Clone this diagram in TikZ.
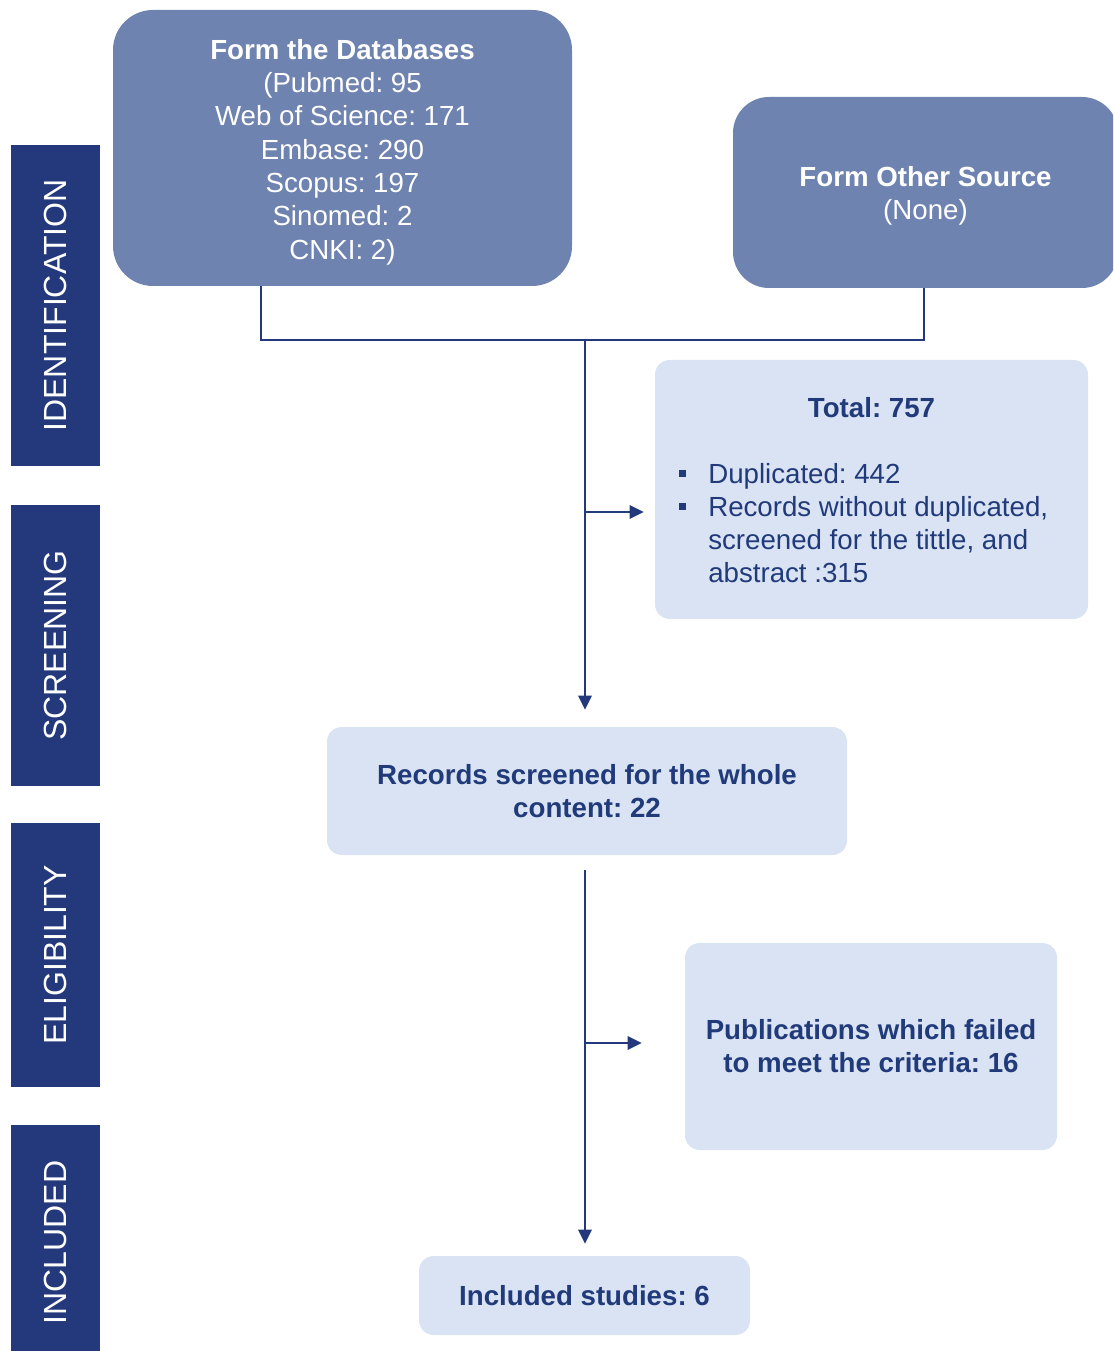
\documentclass[tikz,border=0pt]{standalone}
\usepackage{fontspec}
\setmainfont{Liberation Sans}
\usetikzlibrary{arrows.meta}
\definecolor{navy}{HTML}{24397C}
\definecolor{midblue}{HTML}{6F83B0}
\definecolor{lightblue}{HTML}{DAE3F3}
\definecolor{txtnavy}{HTML}{203A7A}
\frenchspacing
\begin{document}
\begin{tikzpicture}[x=0.75pt,y=-0.75pt,
  phase/.style={fill=navy, text=white, inner sep=0pt, rotate=90,
    minimum height=66.75pt, font=\fontsize{24}{28}\selectfont},
  darkbox/.style={fill=midblue, inner sep=0pt},
  darktxt/.style={text=white, inner sep=0pt, align=center,
    font=\fontsize{20.75}{25}\selectfont},
  lightbox/.style={fill=lightblue, text=txtnavy, inner sep=0pt, align=center,
    rounded corners=11pt, font=\fontsize{20.75}{24.75}\selectfont\bfseries},
  btxt/.style={text=txtnavy, inner sep=0pt, font=\fontsize{20.75}{24.75}\selectfont},
  bulletsq/.style={fill=txtnavy, inner sep=0pt, minimum size=5.25pt},
  conn/.style={draw=navy, line width=1.5pt},
  arr/.style={conn, -{Triangle[length=10.5pt,width=10pt]}}]
\useasboundingbox (0,0) rectangle (1113,1351);
\clip (0,0) rectangle (1113,1351);

% phase bars
\node[phase, minimum width=240.75pt] (p1) at (55.5,305.5) {IDENTIFICATION};
\node[phase, minimum width=210.75pt] (p2) at (55.5,645.5) {SCREENING};
\node[phase, minimum width=198pt] (p3) at (55.5,955) {ELIGIBILITY};
\node[phase, minimum width=176pt] (p4) at (55.5,1242.5) {INCLUDED};

% top boxes
\node[darkbox, minimum width=344.25pt, minimum height=207pt, rounded corners=30pt] (db) at (342.5,148) {};
\node[darktxt] (dbt) at (342.5,152)
  {\textbf{Form the Databases}\\(Pubmed: 95\\Web of Science: 171\\Embase: 290\\Scopus: 197\\Sinomed: 2\\CNKI: 2)};
\node[darkbox, minimum width=288.75pt, minimum height=143.25pt, rounded corners=27pt] (oth) at (925.5,192.5) {};
\node[darktxt] (otht) at (925.5,196) {\textbf{Form Other Source}\\(None)};

% total box
\node[lightbox, minimum width=324.75pt, minimum height=194.25pt] (total) at (871.5,489.5) {};
\node[btxt, anchor=base] (tt) at (871.5,417) {\bfseries Total: 757};
\node[bulletsq] (bu1) at (682.5,473.5) {};
\node[bulletsq] (bu2) at (682.5,506.5) {};
\node[btxt, anchor=base west] (l1) at (708,483) {Duplicated: 442};
\node[btxt, anchor=base west] (l2) at (708,516) {Records without duplicated,};
\node[btxt, anchor=base west] (l3) at (708,549) {screened for the tittle, and};
\node[btxt, anchor=base west] (l4) at (708,582) {abstract :315};

% other boxes
\node[lightbox, minimum width=390pt, minimum height=96pt] (rec) at (587,791)
  {Records screened for the whole\\content: 22};
\node[lightbox, minimum width=279pt, minimum height=155.25pt] (pub) at (871,1046.5)
  {Publications which failed\\to meet the criteria: 16};
\node[lightbox, minimum width=248.25pt, minimum height=59.25pt] (inc) at (584.5,1295.5)
  {Included studies: 6};

% connectors
\coordinate (j) at (585,340);
\draw[conn] (261,0 |- db.south) |- (j) -| (924,0 |- oth.south);
\draw[arr, shorten >=12.75pt] (j) -- (j |- rec.north);
\coordinate (b1) at (585,512);
\draw[arr, shorten >=8.25pt] (b1) -- (b1 -| total.west);
\coordinate (k) at (585,870);
\draw[arr, shorten >=9pt] (k) -- (k |- inc.north);
\coordinate (b2) at (585,1043);
\draw[arr, shorten >=32.25pt] (b2) -- (b2 -| pub.west);
\end{tikzpicture}
\end{document}
